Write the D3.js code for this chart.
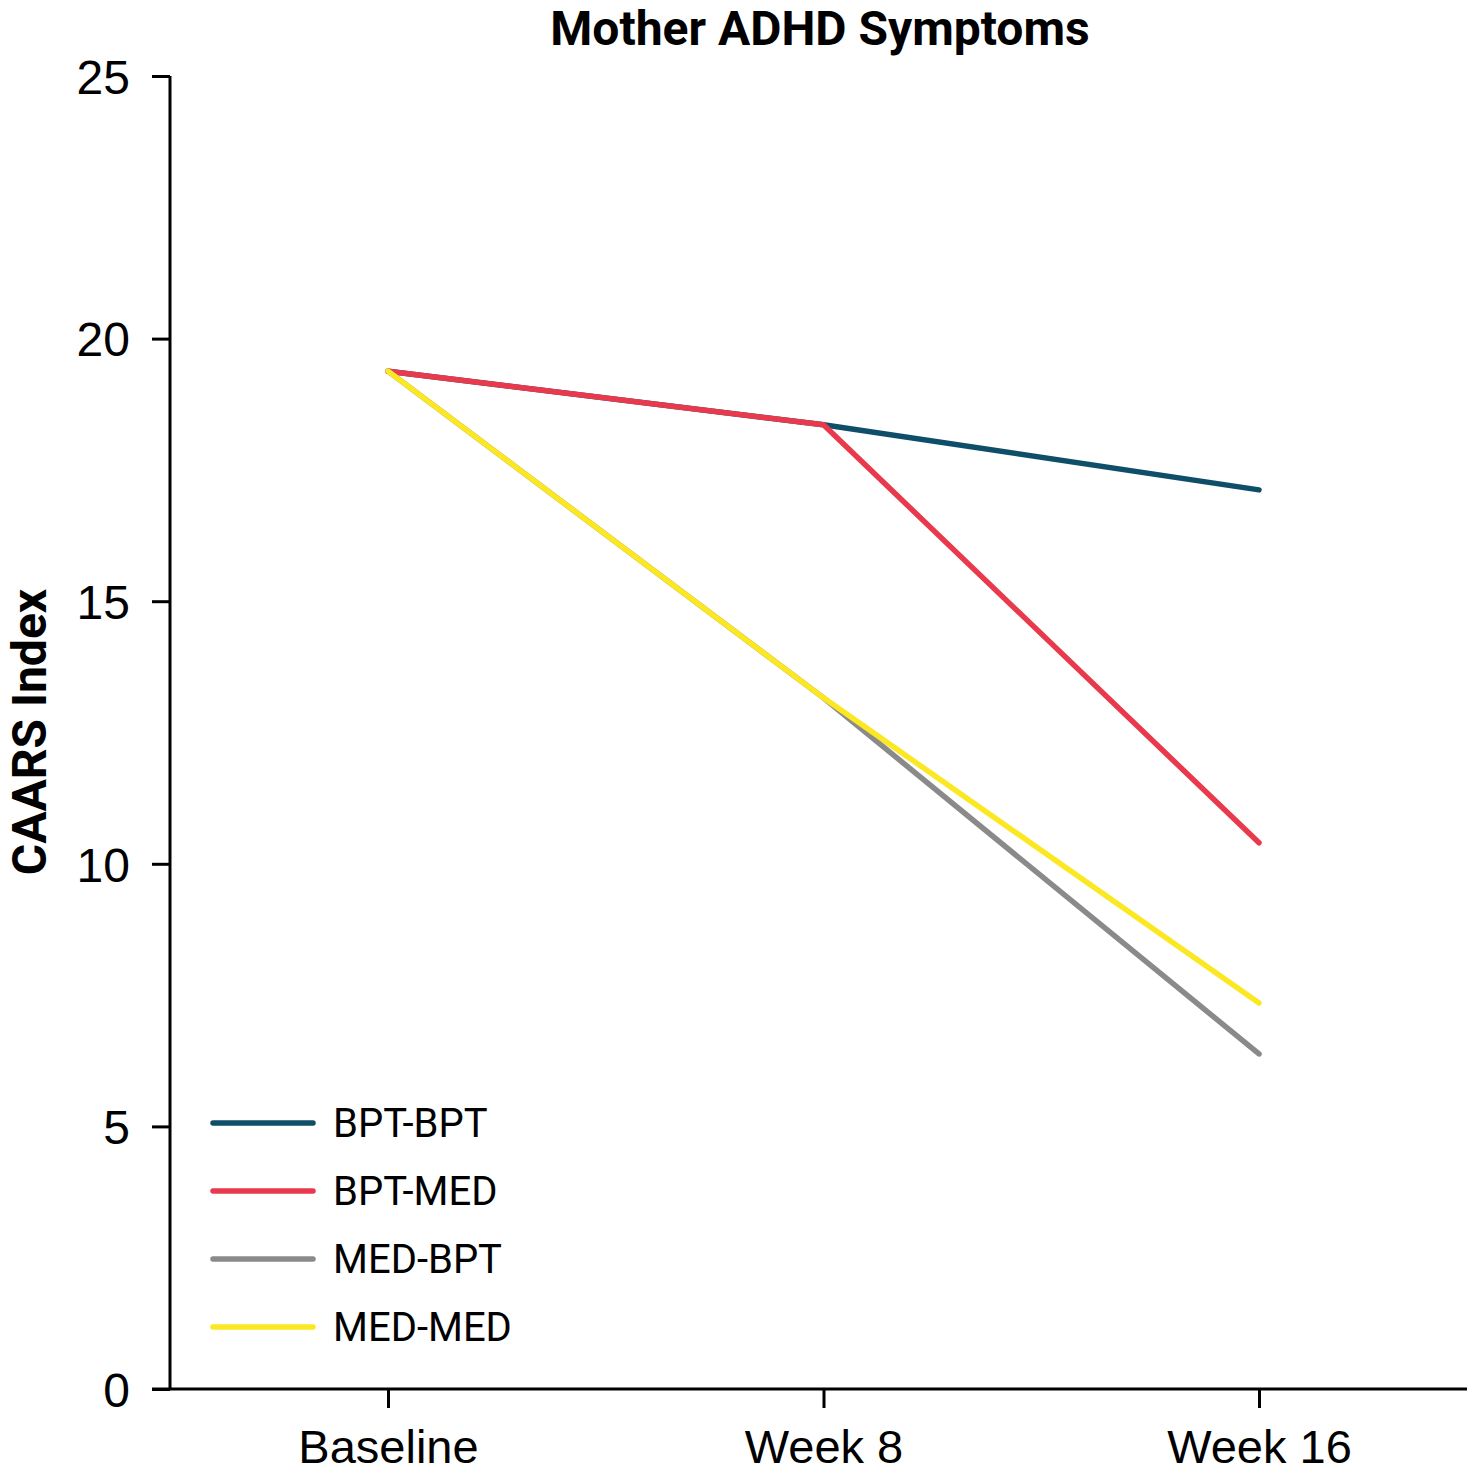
<!DOCTYPE html>
<html>
<head>
<meta charset="utf-8">
<script src="https://cdn.jsdelivr.net/npm/d3@7"></script>
<style>
  body { margin: 0; background: #fff; }
  svg { font-family: Roboto, "Liberation Sans", sans-serif; }
  .axis path, .axis line { stroke: #000; stroke-width: 3px; }
  .axis text { fill: #000; }
</style>
</head>
<body>
<svg id="chart" width="1474" height="1476"></svg>
<script>
  const timepoints = ["Baseline", "Week 8", "Week 16"];
  const groups = ["BPT-BPT", "BPT-MED", "MED-BPT", "MED-MED"];
  const colors = ["#0e4e68", "#e83a4c", "#8a8a8a", "#fbe722"];
  const bptBpt = [19.38, 18.36, 17.12];
  const bptMed = [19.38, 18.36, 10.40];
  const medBpt = [19.38, 13.16, 6.38];
  const medMed = [19.38, 13.16, 7.35];
  const yTicks = [0, 5, 10, 15, 20, 25];

  const series = [bptBpt, bptMed, medBpt, medMed];

  const svg = d3.select("#chart");
  const plotLeft = 170, plotRight = 1467, plotTop = 76, plotBottom = 1389;

  const x = d3.scalePoint().domain(timepoints).range([388, 1259]);
  const y = d3.scaleLinear().domain([0, 25]).range([plotBottom, plotTop]);

  // title
  svg.append("text")
    .attr("x", 820)
    .attr("y", 45)
    .attr("text-anchor", "middle")
    .attr("font-weight", "bold")
    .attr("font-size", 48)
    .text("Mother ADHD Symptoms");

  // y axis
  const yAxis = svg.append("g")
    .attr("class", "axis")
    .attr("transform", `translate(${plotLeft},0)`)
    .call(d3.axisLeft(y).tickValues(yTicks).tickSize(18).tickSizeOuter(0).tickPadding(22));
  yAxis.selectAll("text").attr("font-size", 48).attr("dy", "0.36em");
  yAxis.select(".domain").attr("d", `M0,${plotTop}V${plotBottom}`);

  // x axis
  const xAxis = svg.append("g")
    .attr("class", "axis")
    .attr("transform", `translate(0,${plotBottom})`)
    .call(d3.axisBottom(x).tickSize(19).tickSizeOuter(0).tickPadding(22));
  xAxis.selectAll("text").attr("font-size", 47).attr("dy", "0.71em");
  xAxis.select(".domain").attr("d", `M152,0H${plotRight}`);

  // y label
  svg.append("text")
    .attr("transform", `translate(46,732) rotate(-90)`)
    .attr("text-anchor", "middle")
    .attr("font-weight", "bold")
    .attr("font-size", 48)
    .text("CAARS Index");

  // lines
  const line = d3.line()
    .x((d, i) => x(timepoints[i]))
    .y(d => y(d));

  svg.append("g")
    .selectAll("path")
    .data(series)
    .join("path")
    .attr("fill", "none")
    .attr("stroke", (d, i) => colors[i])
    .attr("stroke-width", 5.5)
    .attr("stroke-linecap", "round")
    .attr("stroke-linejoin", "round")
    .attr("d", line);

  // legend
  const legend = svg.append("g")
    .selectAll("g")
    .data(groups)
    .join("g")
    .attr("transform", (d, i) => `translate(213,${1123 + i * 68})`);

  legend.append("line")
    .attr("x1", 0)
    .attr("x2", 100)
    .attr("stroke", (d, i) => colors[i])
    .attr("stroke-width", 5.5)
    .attr("stroke-linecap", "round");

  legend.append("text")
    .attr("x", 120)
    .attr("dy", "0.36em")
    .attr("font-size", 40)
    .text(d => d);
</script>
</body>
</html>
